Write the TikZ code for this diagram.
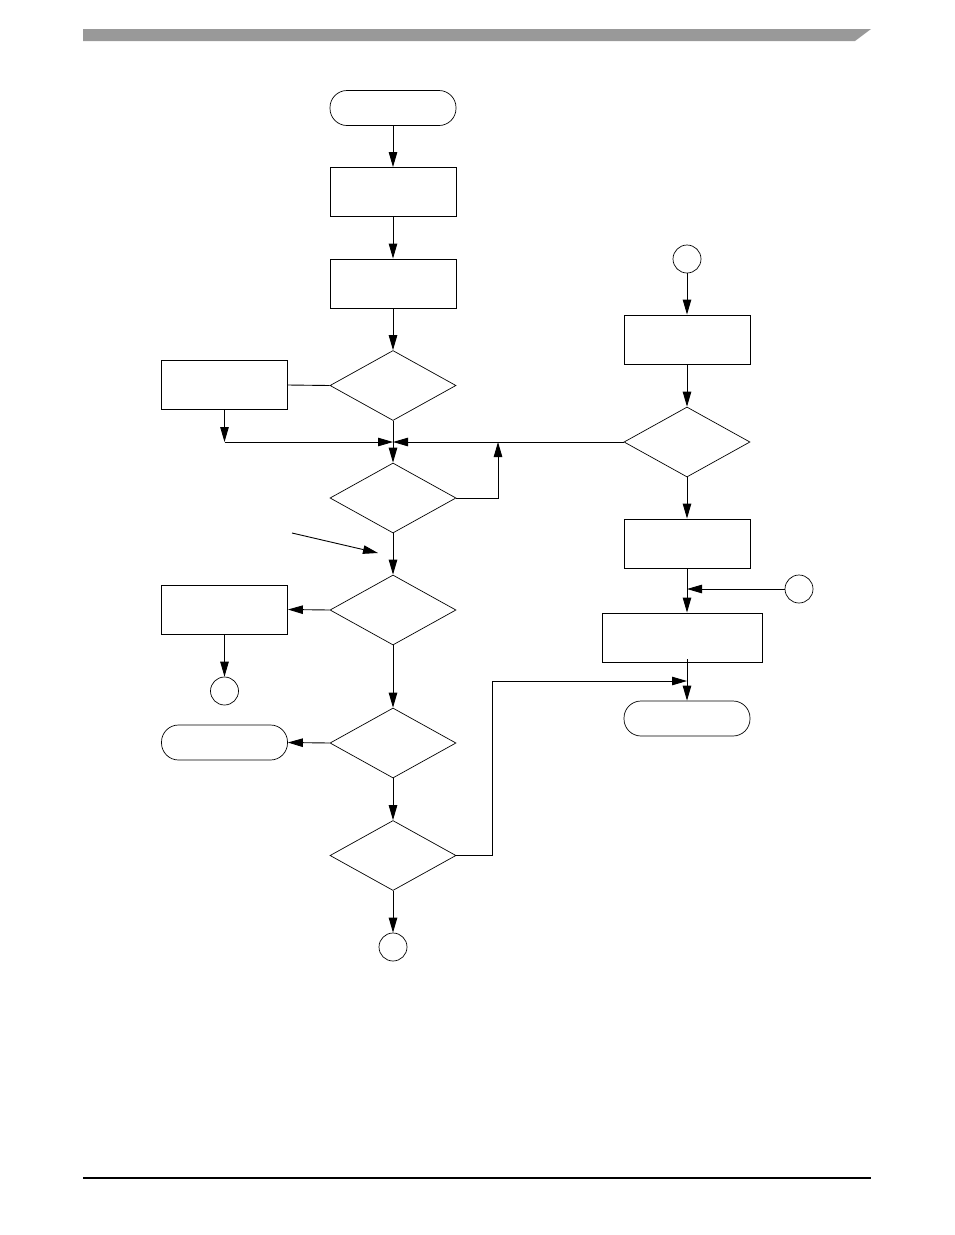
\documentclass[tikz,border=0pt]{standalone}
\usepackage{tikz}
\usetikzlibrary{shapes.geometric,arrows.meta}

\begin{document}
\begin{tikzpicture}[
  x=1pt, y=-1pt,
  box/.style={draw, line width=0.9pt, minimum width=126pt, minimum height=49pt, inner sep=0pt},
  term/.style={draw, line width=0.7pt, rounded corners=17pt, minimum width=126pt, minimum height=35pt, inner sep=0pt},
  dec/.style={draw, line width=0.7pt, diamond, minimum width=126pt, minimum height=70pt, inner sep=0pt},
  circ/.style={draw, line width=0.7pt, circle, minimum size=28pt, inner sep=0pt},
  arr/.style={line width=0.9pt, -{Triangle[length=15pt,width=8.5pt]}},
  ln/.style={line width=0.9pt}
]
\useasboundingbox (0,0) rectangle (954,1235);

% ---- page header / footer ----
\fill[black!40] (83,29) -- (871,29) -- (855,41) -- (83,41) -- cycle;
\draw[line width=1.3pt] (83,1178) -- (871,1178);

% ===== MAIN COLUMN =====
\node[term] (start) at (393,108) {};
\node[box]  (b1)    at (393,192) {};
\node[box]  (b2)    at (393,283.5) {};
\node[dec]  (d1)    at (393,385.5) {};
\node[dec]  (d2)    at (393,498) {};
\node[dec]  (d3)    at (393,610) {};
\node[dec]  (d4)    at (393,743) {};
\node[dec]  (d5)    at (393,855.5) {};
\node[circ] (c2)    at (393,947) {};

% ===== LEFT SIDE =====
\node[box]  (l1) at (224.5,385) {};
\node[box]  (l2) at (224.5,609.5) {};
\node[circ] (c1) at (224.5,691) {};
\node[term] (t2) at (224.5,742.5) {};

% ===== RIGHT COLUMN =====
\node[circ] (c3) at (687,259) {};
\node[box]  (r1) at (687.5,339.5) {};
\node[dec]  (d6) at (687,442) {};
\node[box]  (r2) at (687,543.5) {};
\node[circ] (c4) at (799,589) {};
\node[box, minimum width=160pt] (r3) at (682,637.5) {};
\node[term] (t3) at (687,718.5) {};

% junctions and free ends
\coordinate (j1)    at (393,442);
\coordinate (lj)    at (224.5,442);
\coordinate (up)    at (498,442);
\coordinate (diag)  at (292,533);
\coordinate (diagtip) at (378,553);
\coordinate (rise)  at (492,681);
\coordinate (j2)    at (687,681);
\coordinate (j3)    at (687,589);
\coordinate (r3out) at (687,659);

% ---- connectors, main column ----
\draw[arr] (start) -- (b1);
\draw[arr] (b1) -- (b2);
\draw[arr] (b2) -- (d1);
\draw[ln]  (d1.west) -- (l1.east);
\draw[arr] (d1.south) -- (d2.north);
\draw[arr] (l1.south) -- (lj);
\draw[arr] (lj) -- (j1);
\draw[arr] (d6.west) -- (j1);
\draw[arr] (d2.east) -| (up);
\draw[arr] (diag) -- (diagtip);
\draw[arr] (d2.south) -- (d3.north);
\draw[arr] (d3.west) -- (l2.east);
\draw[arr] (l2.south) -- (c1.north);
\draw[arr] (d3.south) -- (d4.north);
\draw[arr] (d4.west) -- (t2.east);
\draw[arr] (d4.south) -- (d5.north);
\draw[arr] (d5.south) -- (c2.north);
\draw[arr] (d5.east) -| (rise) -- (j2);

% ---- connectors, right column ----
\draw[arr] (c3.south) -- (r1.north -| c3);
\draw[arr] (r1.south -| d6) -- (d6.north);
\draw[arr] (d6.south) -- (r2.north);
\draw[arr] (r2.south) -- (r2.south |- r3.north);
\draw[arr] (c4.west) -- (j3);
\draw[arr] (r3out) -- (t3.north);

\end{tikzpicture}
\end{document}
